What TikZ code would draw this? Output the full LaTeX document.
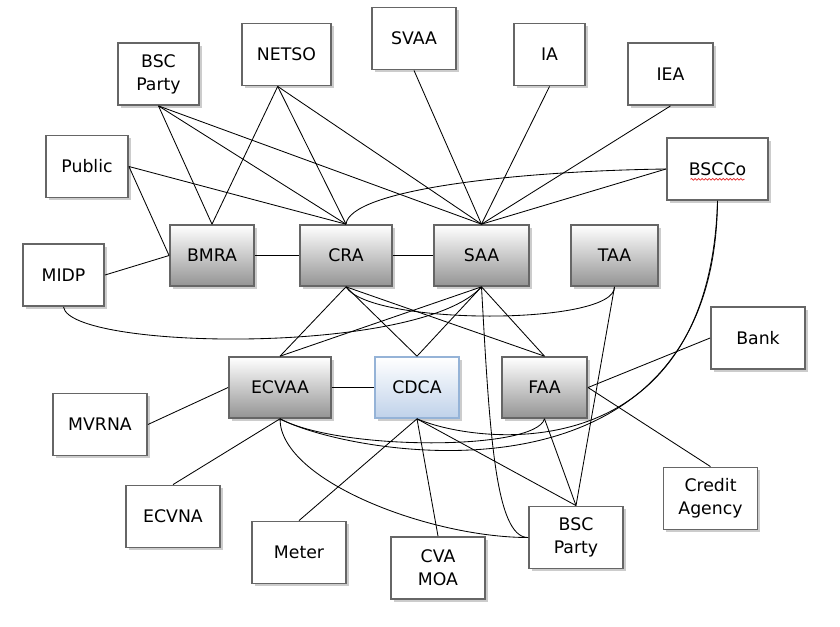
\documentclass[tikz,border=0pt]{standalone}
\usepackage{fontspec}
\setmainfont{DejaVu Sans}
\usetikzlibrary{shadows,decorations.pathmorphing}
\definecolor{boxline}{RGB}{102,102,102}
\definecolor{shadowgray}{RGB}{204,204,204}
\definecolor{cdcaline}{RGB}{149,179,215}
\definecolor{cdcabottom}{RGB}{192,210,234}
\definecolor{spellred}{RGB}{230,40,40}
\begin{document}
\begin{tikzpicture}[x=0.025cm,y=-0.025cm,line width=0.6pt,
box/.style={draw=boxline,line width=1.3pt,rectangle,fill=white,align=center,
  font=\fontsize{12.3}{16.5}\selectfont,inner sep=1pt,
  minimum width=2.35cm,minimum height=1.55cm,
  drop shadow={shadow xshift=0.07cm,shadow yshift=-0.07cm,fill=shadowgray,opacity=1}},
agent/.style={box,top color=white,middle color=black!9,bottom color=black!42},
cdcabox/.style={box,draw=cdcaline,top color=white,middle color=cdcabottom!45,bottom color=cdcabottom}]
\useasboundingbox (0,0) rectangle (840,626);
% outer parties
\draw (158.5,74) node[box,minimum width=2.03cm] (bscTop) {BSC\\Party};
\draw (286.5,54.5) node[box,minimum width=2.23cm] (netso) {NETSO};
\draw (414,38.5) node[box,minimum width=2.1cm] (svaa) {SVAA};
\draw (549.5,54.5) node[box,minimum width=1.78cm] (ia) {IA};
\draw (670.5,74) node[box,minimum width=2.13cm] (iea) {IEA};
\draw (87,166.5) node[box,minimum width=2.05cm] (public) {Public};
\draw (717.5,169) node[box,minimum width=2.53cm] (bscco) {BSCCo};
\draw (63.5,275) node[box,minimum width=2.03cm] (midp) {MIDP};
\draw (758,338) node[box] (bank) {Bank};
\draw (100,424.5) node[box] (mvrna) {MVRNA};
\draw (173,516.5) node[box] (ecvna) {ECVNA};
\draw (299,552.5) node[box] (meter) {Meter};
\draw (438,568) node[box] (cvamoa) {CVA\\MOA};
\draw (576,537.5) node[box] (bscBot) {BSC\\Party};
\draw (710.5,498.5) node[box] (credit) {Credit\\Agency};
% agents
\draw (212,255.5) node[agent,minimum width=2.1cm,minimum height=1.52cm] (bmra) {BMRA};
\draw (346,255.5) node[agent,minimum width=2.3cm,minimum height=1.52cm] (cra) {CRA};
\draw (481.5,255.5) node[agent,minimum width=2.37cm,minimum height=1.52cm] (saa) {SAA};
\draw (614.5,255.5) node[agent,minimum width=2.17cm,minimum height=1.52cm] (taa) {TAA};
\draw (280,387.5) node[agent,minimum width=2.55cm,minimum height=1.52cm] (ecvaa) {ECVAA};
\draw (417,387.5) node[cdcabox,minimum width=2.1cm,minimum height=1.52cm] (cdca) {CDCA};
\draw (544.5,387.5) node[agent,minimum width=2.13cm,minimum height=1.52cm] (faa) {FAA};
\draw[spellred,line width=0.5pt,decorate,decoration={snake,amplitude=0.6pt,segment length=2.5pt}]
  ([shift={(-27,4)}]bscco.base) -- ([shift={(27,4)}]bscco.base);
\coordinate (netsoout) at ([xshift=-0.22cm]netso.south);
% upper links
\draw (bscTop.south) -- (bmra.north);
\draw (bscTop.south) -- (cra.north);
\draw (bscTop.south) -- (saa.north);
\draw (netsoout) -- (bmra.north);
\draw (netsoout) -- (cra.north);
\draw (netsoout) -- (saa.north);
\draw (svaa.south) -- (saa.north);
\draw (ia.south) -- (saa.north);
\draw (iea.south) -- (saa.north);
\draw (bscco.west) -- (saa.north);
\draw (bscco.west) .. controls +(-147,2) and +(4,-35) .. (cra.north);
\draw (public.east) -- (bmra.west);
\draw (public.east) -- (cra.north);
\draw (midp.east) -- (bmra.west);
% middle links
\draw (bmra) -- (cra);
\draw (cra) -- (saa);
\draw (cra.south) -- (ecvaa.north);
\draw (cra.south) -- (cdca.north);
\draw (cra.south) -- (faa.north);
\draw (cra.south) .. controls +(24,39) and +(1,39) .. (taa.south);
\draw (saa.south) -- (ecvaa.north);
\draw (saa.south) -- (cdca.north);
\draw (saa.south) -- (faa.north);
\draw (midp.south) .. controls +(6,43) and +(-62,69) .. (saa.south);
\draw (saa.south) .. controls +(8,144) and +(-33,0) .. (bscBot.west);
\draw (taa.south) -- (bscBot.north);
% lower links
\draw (ecvaa) -- (cdca);
\draw (mvrna.east) -- (ecvaa.west);
\draw (ecvaa.south) -- (ecvna.north);
\draw (ecvaa.south) .. controls +(0,62) and +(-98,0) .. (bscBot.west);
\draw (ecvaa.south) .. controls +(60,32) and +(-9,32) .. (faa.south);
\draw (ecvaa.south) .. controls +(70,37) and +(-3,320) .. (bscco.south);
\draw (cdca.south) .. controls +(63,27) and +(-8,270) .. (bscco.south);
\draw (cdca.south) -- (meter.north);
\draw (cdca.south) -- (cvamoa.north);
\draw (cdca.south) -- (bscBot.north);
\draw (faa.south) -- (bscBot.north);
\draw (faa.east) -- (bank.west);
\draw (faa.east) -- (credit.north);
\end{tikzpicture}
\end{document}
